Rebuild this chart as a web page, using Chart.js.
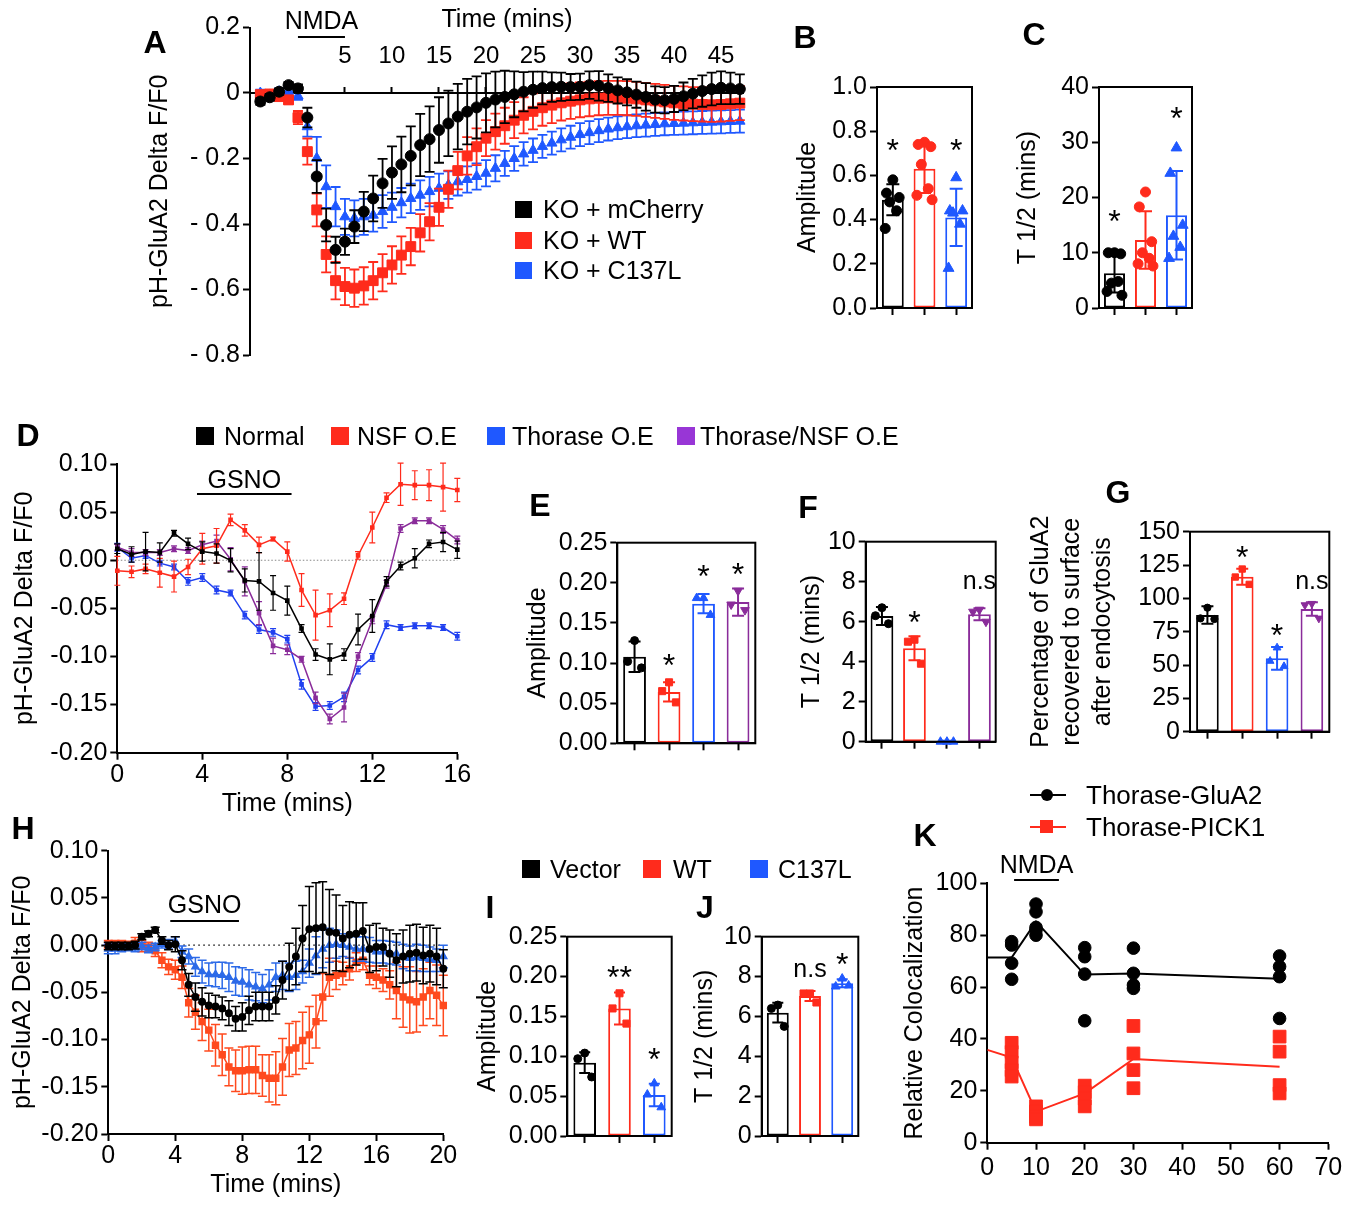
<!DOCTYPE html>
<html>
<head>
<meta charset="utf-8">
<script src="https://cdn.jsdelivr.net/npm/chart.js@4.4.1/dist/chart.umd.min.js"></script>
<style>
  body { margin: 0; background: #fff; }
  #page { position: relative; width: 1352px; height: 1205px; overflow: hidden;
          font-family: "Liberation Sans", Arial, sans-serif; color: #000; background: #fff; }
  #page canvas { position: absolute; left: 0; top: 0; }
  .t { position: absolute; white-space: nowrap; line-height: 1; }
</style>
</head>
<body>
<div id="page"></div>
<script>
// ---------- data ----------
// A: pH-GluA2 traces, one point per minute
const seriesA = ['KO + mCherry', 'KO + WT', 'KO + C137L'];
const tA = [-4,-3,-2,-1,0,1,2,3,4,5,6,7,8,9,10,11,12,13,14,15,16,17,18,19,20,21,22,23,24,25,26,27,28,29,30,31,32,33,34,35,36,37,38,39,40,41,42,43,44,45,46,47];
const mCherryA = [-0.026,-0.013,0.004,0.024,0.014,-0.075,-0.255,-0.403,-0.479,-0.454,-0.408,-0.362,-0.322,-0.276,-0.243,-0.218,-0.192,-0.159,-0.141,-0.113,-0.093,-0.072,-0.057,-0.044,-0.030,-0.020,-0.012,-0.004,0.004,0.010,0.015,0.018,0.019,0.018,0.019,0.024,0.022,0.015,0.008,0.002,-0.005,-0.012,-0.020,-0.022,-0.018,-0.010,-0.002,0.006,0.012,0.016,0.014,0.012];
const mCherryErrA = [0.010,0.010,0.010,0.010,0.012,0.030,0.050,0.050,0.040,0.040,0.050,0.060,0.070,0.075,0.080,0.085,0.090,0.095,0.100,0.100,0.100,0.100,0.100,0.095,0.090,0.085,0.080,0.070,0.060,0.055,0.050,0.045,0.043,0.040,0.040,0.042,0.045,0.042,0.040,0.040,0.040,0.042,0.040,0.040,0.040,0.042,0.045,0.048,0.050,0.050,0.048,0.045];
const wtA = [-0.005,-0.003,-0.011,-0.021,-0.075,-0.179,-0.357,-0.493,-0.573,-0.591,-0.596,-0.589,-0.573,-0.549,-0.525,-0.495,-0.469,-0.427,-0.393,-0.349,-0.294,-0.237,-0.192,-0.164,-0.138,-0.118,-0.100,-0.083,-0.068,-0.056,-0.045,-0.037,-0.030,-0.025,-0.021,-0.018,-0.016,-0.015,-0.015,-0.016,-0.018,-0.021,-0.024,-0.027,-0.030,-0.032,-0.034,-0.035,-0.036,-0.035,-0.033,-0.031];
const wtErrA = [0.010,0.010,0.010,0.012,0.020,0.040,0.050,0.055,0.057,0.057,0.057,0.057,0.057,0.057,0.057,0.057,0.057,0.057,0.057,0.057,0.057,0.057,0.057,0.056,0.055,0.055,0.055,0.055,0.055,0.055,0.055,0.055,0.054,0.054,0.053,0.053,0.052,0.052,0.052,0.052,0.052,0.052,0.052,0.052,0.052,0.052,0.052,0.052,0.052,0.052,0.052,0.052];
const c137lA = [0.000,-0.006,0.004,0.007,-0.009,-0.103,-0.199,-0.286,-0.347,-0.378,-0.383,-0.378,-0.373,-0.362,-0.349,-0.335,-0.322,-0.312,-0.301,-0.291,-0.281,-0.271,-0.264,-0.255,-0.245,-0.230,-0.215,-0.200,-0.186,-0.175,-0.163,-0.153,-0.143,-0.135,-0.127,-0.121,-0.115,-0.110,-0.106,-0.103,-0.100,-0.098,-0.096,-0.094,-0.093,-0.092,-0.091,-0.090,-0.089,-0.088,-0.087,-0.086];
const c137lErrA = [0.010,0.010,0.010,0.010,0.012,0.030,0.065,0.065,0.060,0.055,0.055,0.055,0.050,0.050,0.045,0.045,0.045,0.045,0.045,0.045,0.042,0.042,0.040,0.040,0.040,0.040,0.038,0.038,0.036,0.036,0.035,0.035,0.035,0.035,0.035,0.035,0.035,0.035,0.035,0.035,0.035,0.035,0.035,0.035,0.035,0.035,0.035,0.035,0.035,0.035,0.035,0.035];
const timeTicksA = [5, 10, 15, 20, 25, 30, 35, 40, 45];

// B, C: amplitude and T1/2 per group
const groupsABC = ['KO + mCherry', 'KO + WT', 'KO + C137L'];
const ampMeanB = [0.49, 0.63, 0.41];
const ampSdB = [0.07, 0.11, 0.13];
const ampDotsB = [[0.58,0.52,0.50,0.48,0.44,0.36], [0.75,0.74,0.73,0.65,0.54,0.51,0.49], [0.59,0.44,0.44,0.43,0.38,0.18]];
const sigB = ['*', '', '*'];
const sigAtB = [0.737, 0, 0.737];
const halfMeanC = [6.3, 12.3, 16.8];
const halfSdC = [3.5, 5.2, 8.0];
const halfDotsC = [[10,10,9.8,4.5,4.8,3,2.3], [21,18.3,12,10,9,8,7.6], [29,24.4,15,13,11,9]];
const sigC = ['*', '', '*'];
const sigAtC = [16.6, 0, 35.4];

// D: GSNO traces, one point every 40 s
const seriesD = ['Normal', 'NSF O.E', 'Thorase O.E', 'Thorase/NSF O.E'];
const tD = [0,0.67,1.33,2,2.67,3.33,4,4.67,5.33,6,6.67,7.33,8,8.67,9.33,10,10.67,11.33,12,12.67,13.33,14,14.67,15.33,16];
const normalD = [0.012,0.006,0.009,0.008,0.028,0.017,0.009,0.007,0.000,-0.021,-0.022,-0.034,-0.042,-0.071,-0.098,-0.103,-0.098,-0.072,-0.058,-0.022,-0.006,0.002,0.017,0.019,0.011];
const normalErrD = [0.005,0.008,0.020,0.010,0.003,0.006,0.010,0.010,0.012,0.012,0.030,0.018,0.015,0.004,0.006,0.016,0.006,0.016,0.017,0.005,0.004,0.010,0.004,0.010,0.009];
const nsfD = [-0.011,-0.012,-0.009,-0.013,-0.017,-0.007,0.012,0.015,0.042,0.031,0.016,0.022,0.009,-0.031,-0.057,-0.052,-0.040,0.005,0.034,0.065,0.079,0.078,0.078,0.076,0.073];
const nsfErrD = [0.015,0.006,0.005,0.015,0.016,0.008,0.016,0.018,0.006,0.006,0.008,0.002,0.010,0.017,0.026,0.017,0.006,0.004,0.016,0.005,0.022,0.015,0.016,0.025,0.012];
const thoraseD = [0.0135,0.002,0.005,-0.003,-0.007,-0.022,-0.018,-0.031,-0.034,-0.057,-0.072,-0.075,-0.082,-0.129,-0.152,-0.151,-0.142,-0.114,-0.101,-0.067,-0.070,-0.068,-0.068,-0.070,-0.079];
const thoraseErrD = [0.004,0.004,0.003,0.003,0.003,0.004,0.004,0.004,0.003,0.004,0.004,0.004,0.004,0.005,0.004,0.004,0.005,0.004,0.004,0.004,0.003,0.003,0.003,0.003,0.004];
const bothD = [0.0135,0.008,0.008,0.008,0.012,0.010,0.016,0.020,0.001,-0.022,-0.055,-0.089,-0.093,-0.103,-0.143,-0.165,-0.153,-0.100,-0.062,-0.025,0.033,0.041,0.041,0.032,0.021];
const bothErrD = [0.003,0.004,0.003,0.003,0.003,0.003,0.004,0.006,0.012,0.015,0.012,0.008,0.005,0.003,0.006,0.005,0.015,0.004,0.004,0.004,0.004,0.003,0.003,0.004,0.004];

// E, F, G
const groupsEFG = ['Normal', 'NSF O.E', 'Thorase O.E', 'Thorase/NSF O.E'];
const ampMeanE = [0.108, 0.064, 0.174, 0.176];
const ampSdE = [0.019, 0.012, 0.012, 0.017];
const ampDotsE = [[0.128,0.102,0.094], [0.076,0.065,0.051], [0.181,0.181,0.160], [0.190,0.173,0.166]];
const sigE = ['', '*', '*', '*'];
const sigAtE = [0, 0.104, 0.215, 0.217];
const halfMeanF = [6.28, 4.67, 0, 6.37];
const halfSdF = [0.45, 0.6, 0.05, 0.3];
const halfDotsF = [[6.7,6.3,5.9], [5.1,5.0,3.9], [0,0,0], [6.6,6.5,6.0]];
const sigF = ['', '*', '', 'n.s'];
const sigAtF = [0, 6.25, 0, 8.0];
const recovMeanG = [87.5, 116.2, 55, 92];
const recovSdG = [6.5, 6, 8.5, 5];
const recovDotsG = [[93,85,84.5], [122,116,110.5], [63,53,49], [96,95,85]];
const sigG = ['', '*', '*', 'n.s'];
const sigAtG = [0, 135, 76.3, 112.5];

// H: GSNO traces, one point every 24 s
const seriesHIJ = ['Vector', 'WT', 'C137L'];
const tH = [0,0.4,0.8,1.2,1.6,2,2.4,2.8,3.2,3.6,4,4.4,4.8,5.2,5.6,6,6.4,6.8,7.2,7.6,8,8.4,8.8,9.2,9.6,10,10.4,10.8,11.2,11.6,12,12.4,12.8,13.2,13.6,14,14.4,14.8,15.2,15.6,16,16.4,16.8,17.2,17.6,18,18.4,18.8,19.2,19.6,20];
const vectorH = [-0.001,-0.001,-0.001,-0.001,0,0.009,0.012,0.016,0.005,0,0.001,-0.016,-0.042,-0.055,-0.060,-0.064,-0.065,-0.067,-0.072,-0.078,-0.076,-0.069,-0.065,-0.065,-0.065,-0.058,-0.037,-0.023,-0.012,0.007,0.017,0.018,0.019,0.014,0.013,0.007,0.011,0.012,0.015,-0.004,-0.002,-0.002,-0.009,-0.016,-0.012,-0.009,-0.008,-0.011,-0.009,-0.012,-0.025];
const vectorErrH = [0.004,0.004,0.004,0.004,0.004,0.003,0.003,0.003,0.004,0.005,0.008,0.010,0.012,0.015,0.015,0.013,0.012,0.012,0.013,0.013,0.015,0.015,0.015,0.015,0.015,0.015,0.020,0.025,0.030,0.035,0.045,0.048,0.048,0.045,0.040,0.035,0.035,0.033,0.030,0.025,0.025,0.020,0.025,0.028,0.028,0.030,0.030,0.030,0.030,0.030,0.020];
const wtH = [0.001,0.001,0.001,0,0.002,-0.001,-0.002,-0.006,-0.016,-0.023,-0.026,-0.034,-0.061,-0.071,-0.081,-0.090,-0.106,-0.116,-0.129,-0.133,-0.133,-0.132,-0.132,-0.138,-0.141,-0.141,-0.129,-0.111,-0.109,-0.101,-0.095,-0.081,-0.055,-0.034,-0.032,-0.030,-0.025,-0.018,-0.016,-0.032,-0.034,-0.037,-0.042,-0.048,-0.055,-0.058,-0.060,-0.055,-0.048,-0.053,-0.064];
const wtErrH = [0.004,0.004,0.004,0.004,0.006,0.006,0.005,0.006,0.008,0.008,0.010,0.012,0.015,0.018,0.020,0.022,0.022,0.022,0.020,0.022,0.025,0.025,0.025,0.022,0.025,0.028,0.030,0.028,0.028,0.030,0.030,0.028,0.025,0.020,0.015,0.012,0.012,0.010,0.010,0.010,0.012,0.012,0.015,0.030,0.032,0.035,0.032,0.030,0.030,0.032,0.032];
const c137lH = [-0.004,-0.004,-0.003,-0.002,-0.003,-0.001,-0.004,-0.002,0.001,0.001,0.004,-0.007,-0.012,-0.023,-0.028,-0.031,-0.031,-0.032,-0.034,-0.038,-0.039,-0.042,-0.044,-0.046,-0.042,-0.034,-0.032,-0.034,-0.032,-0.028,-0.019,-0.011,-0.004,0,0.001,0,-0.002,-0.004,-0.004,-0.005,-0.007,-0.007,-0.008,-0.009,-0.012,-0.014,-0.013,-0.014,-0.015,-0.016,-0.012];
const c137lErrH = [0.005,0.005,0.004,0.004,0.004,0.004,0.004,0.004,0.004,0.005,0.005,0.006,0.008,0.010,0.012,0.012,0.013,0.014,0.015,0.015,0.015,0.016,0.015,0.015,0.016,0.015,0.015,0.015,0.015,0.012,0.015,0.020,0.020,0.018,0.015,0.012,0.012,0.013,0.013,0.013,0.012,0.012,0.012,0.012,0.013,0.013,0.014,0.014,0.013,0.012,0.012];

// I, J
const ampMeanI = [0.092, 0.160, 0.0514];
const ampSdI = [0.013, 0.020, 0.014];
const ampDotsI = [[0.104,0.097,0.074], [0.179,0.160,0.141], [0.066,0.052,0.036]];
const sigI = ['', '**', '*'];
const sigAtI = [0, 0.206, 0.1036];
const halfMeanJ = [6.19, 7.02, 7.66];
const halfSdJ = [0.5, 0.25, 0.2];
const halfDotsJ = [[6.57,6.4,5.5], [7.15,7.15,6.7], [7.9,7.5,7.55]];
const sigJ = ['', 'n.s', '*'];
const sigAtJ = [0, 8.32, 8.9];

// K: colocalization after NMDA
const seriesK = ['Thorase-GluA2', 'Thorase-PICK1'];
const timesK = [5, 10, 20, 30, 60];
const glua2K = [[77.5,76.2,69.2,63.0], [92,89,83,80,82], [75.2,71.7,65,47], [75,65.3,60.8,59.5], [72,67.9,64,47.9]];
const pick1K = [[38.5,35,31,28,25.5], [14,12,10,9], [22,19.5,17,14], [45,34.4,28,21], [40.9,35.1,22.2,19]];
const meanTimesK = [0, 5, 10, 20, 30, 60];
const glua2MeanK = [71.4, 71.4, 85.2, 64.8, 65.2, 63.2];
const pick1MeanK = [35.8, 32.8, 12, 19, 32.3, 29.3];

// ---------- setup ----------
const PAGE_W = 1352, PAGE_H = 1205;
const FONT = '"Liberation Sans", Arial, sans-serif';
const TICK = 25, TITLE = 25;
const COL = { black: '#000000', red: '#ff2b1c', blue: '#1f58ff', purple: '#8a2c9a', purpleKey: '#9836d6',
              blueD: '#2040f0', orange: '#ff4a1e', blueH: '#2c6ae8' };
const JITTER = [0, -0.2, 0.2, -0.1, 0.12, -0.24, 0.24, 0.05];

Chart.defaults.font.family = FONT;
Chart.defaults.color = '#000';
Chart.defaults.animation = false;
Chart.defaults.responsive = false;
Chart.defaults.events = [];
Chart.defaults.plugins.legend.display = false;
Chart.defaults.plugins.tooltip.enabled = false;

const page = document.getElementById('page');

function addCanvas() {
  const c = document.createElement('canvas');
  c.width = PAGE_W; c.height = PAGE_H;
  page.appendChild(c);
  return c;
}
function addText(text, x, y, size, opt = {}) {
  const d = document.createElement('div');
  d.className = 't';
  d.textContent = text;
  d.style.left = x + 'px';
  d.style.top = y + 'px';
  d.style.fontSize = size + 'px';
  if (opt.bold) d.style.fontWeight = 'bold';
  d.style.transform = opt.center ? 'translate(-50%,-50%)' : 'translate(0,-50%)';
  page.appendChild(d);
}
function addBox(x, y, w, h, color, round) {
  const d = document.createElement('div');
  Object.assign(d.style, { position: 'absolute', left: x + 'px', top: y + 'px', width: w + 'px', height: h + 'px',
                           background: color, borderRadius: round ? '50%' : '0' });
  page.appendChild(d);
}

// chart area placed at rect r, y axis box W wide, x axis box H high
function frameLayout(r, W, H) {
  return { padding: { left: r.L - W, top: r.T, right: PAGE_W - r.R, bottom: PAGE_H - r.B - H } };
}

// error bars drawn from dataset.errors through the y scale
function drawErrors(chart, args) {
  const ds = chart.data.datasets[args.index];
  if (!ds.errors) return;
  const meta = args.meta, ys = chart.scales[meta.yAxisID], ctx = chart.ctx;
  const cap = ds.capWidth || 8;
  ctx.save();
  ctx.lineWidth = ds.errorWidth || 1.5;
  meta.data.forEach((el, i) => {
    const e = ds.errors[i];
    if (e == null) return;
    const raw = ds.data[i];
    const v = typeof raw === 'object' ? raw.y : raw;
    const x = el.x, y1 = ys.getPixelForValue(v + e), y2 = ys.getPixelForValue(v - e);
    ctx.strokeStyle = Array.isArray(ds.errorColor) ? ds.errorColor[i] : (ds.errorColor || ds.borderColor);
    ctx.beginPath();
    ctx.moveTo(x, y1); ctx.lineTo(x, y2);
    ctx.moveTo(x - cap / 2, y1); ctx.lineTo(x + cap / 2, y1);
    ctx.moveTo(x - cap / 2, y2); ctx.lineTo(x + cap / 2, y2);
    ctx.stroke();
  });
  ctx.restore();
}
const errorBars = {
  id: 'errorBars',
  beforeDatasetDraw(chart, args) { if (!chart.data.datasets[args.index].errorsOnTop) drawErrors(chart, args); },
  afterDatasetDraw(chart, args) { if (chart.data.datasets[args.index].errorsOnTop) drawErrors(chart, args); }
};
const frameBox = {
  id: 'frameBox',
  afterDatasetsDraw(chart, args, opts) {
    if (!opts.show) return;
    const { left, top, right, bottom } = chart.chartArea, ctx = chart.ctx;
    ctx.save();
    ctx.strokeStyle = '#000'; ctx.lineWidth = 2;
    ctx.strokeRect(left, top, right - left, bottom - top);
    ctx.restore();
  }
};
Chart.register(errorBars, frameBox);

function marksPlugin(labels, at) {
  return {
    id: 'marks',
    afterDatasetsDraw(chart) {
      const ctx = chart.ctx, xs = chart.scales.x, ys = chart.scales.y;
      ctx.save();
      ctx.fillStyle = '#000'; ctx.textAlign = 'center'; ctx.textBaseline = 'middle';
      labels.forEach((txt, i) => {
        if (!txt) return;
        const star = txt.indexOf('*') >= 0;
        const size = star ? 32 : 25;
        ctx.font = size + 'px ' + FONT;
        ctx.fillText(txt, xs.getPixelForValue(i), ys.getPixelForValue(at[i]) + (star ? 0.23 * size : 0));
      });
      ctx.restore();
    }
  };
}
function stimPlugin(from, to, at, label, lift) {
  return {
    id: 'stim',
    afterDraw(chart) {
      const xs = chart.scales.x, ys = chart.scales.y, ctx = chart.ctx;
      const x1 = xs.getPixelForValue(from), x2 = xs.getPixelForValue(to), y = ys.getPixelForValue(at);
      ctx.save();
      ctx.strokeStyle = '#000'; ctx.lineWidth = 2;
      ctx.beginPath(); ctx.moveTo(x1, y); ctx.lineTo(x2, y); ctx.stroke();
      ctx.font = '25px ' + FONT; ctx.fillStyle = '#000';
      ctx.textAlign = 'center'; ctx.textBaseline = 'middle';
      ctx.fillText(label, (x1 + x2) / 2, y - lift);
      ctx.restore();
    }
  };
}
function zeroLine(color, dash) {
  return {
    id: 'zeroLine',
    beforeDatasetsDraw(chart) {
      const y = chart.scales.y.getPixelForValue(0), { left, right } = chart.chartArea, ctx = chart.ctx;
      ctx.save();
      ctx.strokeStyle = color; ctx.lineWidth = 1.2; ctx.setLineDash(dash);
      ctx.beginPath(); ctx.moveTo(left, y); ctx.lineTo(right, y); ctx.stroke();
      ctx.restore();
    }
  };
}

const tickGrid = { display: true, drawOnChartArea: false, drawTicks: true, tickLength: 7, tickWidth: 2, tickColor: '#000', offset: false };
const axisBorder = { display: true, color: '#000', width: 2 };

function yAxis(min, max, step, fmt, W, title, titleFont) {
  return {
    min, max,
    ticks: { stepSize: step, callback: fmt, font: { size: TICK }, padding: 3, autoSkip: false },
    grid: tickGrid, border: axisBorder,
    title: { display: true, text: title, font: titleFont || { size: TITLE }, padding: { top: 4, bottom: 4 } },
    afterFit: s => { s.width = W; }
  };
}
const fmt1 = v => v.toFixed(1);
const fmt2 = v => (Math.abs(v) < 1e-9 ? 0 : v).toFixed(2);
const fmt0 = v => String(Math.round(v));
const fmtA = v => Math.abs(v) < 1e-9 ? '0' : (v < 0 ? '- ' + (-v).toFixed(1) : v.toFixed(1));

// bars, scatter of single values and error bars share one linear x axis (group index)
function barPanel(p) {
  const n = p.groups.length;
  const datasets = p.dots.map((vals, g) => ({
    type: 'scatter', order: 1, clip: false,
    data: vals.map((v, k) => ({ x: g + JITTER[k % JITTER.length], y: v })),
    pointStyle: p.shapes[g], pointRotation: p.rotations ? p.rotations[g] : 0,
    pointRadius: p.shapes[g] === 'circle' ? p.r : p.r * 1.25,
    pointBackgroundColor: p.colors[g], pointBorderColor: p.colors[g], pointBorderWidth: 1
  }));
  datasets.push({
    type: 'bar', order: 2, grouped: false, data: p.means.map((m, g) => ({ x: g, y: m })),
    errors: p.sds, errorsOnTop: true, errorColor: p.colors, errorWidth: 2, capWidth: p.cap,
    borderColor: p.colors, backgroundColor: '#ffffff', borderWidth: 2, borderSkipped: false,
    barPercentage: p.barPct, categoryPercentage: 1
  });
  new Chart(addCanvas(), {
    type: 'bar',
    data: { datasets },
    options: {
      layout: frameLayout(p.rect, p.W, 12),
      scales: {
        x: { type: 'linear', offset: false, min: -0.5, max: n - 0.5,
             afterBuildTicks: s => { s.ticks = p.groups.map((_, g) => ({ value: g })); },
             ticks: { display: false }, grid: tickGrid, border: axisBorder,
             afterFit: s => { s.height = 12; } },
        y: yAxis(p.min, p.max, p.step, p.fmt, p.W, p.title, p.titleFont)
      },
      plugins: { frameBox: { show: true } }
    },
    plugins: [marksPlugin(p.sig, p.sigAt)]
  });
}

// ---------- A ----------
const rectA = { L: 250, T: 27.5, R: 743.6, B: 355 };
const ptsA = vals => tA.map((t, i) => ({ x: t, y: vals[i] }));
new Chart(addCanvas(), {
  type: 'scatter',
  data: { datasets: [
    { data: ptsA(mCherryA), errors: mCherryErrA, capWidth: 10, errorWidth: 1.8, errorColor: COL.black, clip: false,
      pointStyle: 'circle', pointRadius: 5.5, pointBackgroundColor: COL.black, pointBorderColor: COL.black },
    { data: ptsA(wtA), errors: wtErrA, capWidth: 10, errorWidth: 1.8, errorColor: COL.red, clip: false,
      pointStyle: 'rect', pointRadius: 7, pointBackgroundColor: COL.red, pointBorderColor: COL.red },
    { data: ptsA(c137lA), errors: c137lErrA, capWidth: 10, errorWidth: 1.8, errorColor: COL.blue, clip: false,
      pointStyle: 'triangle', pointRadius: 6, pointBackgroundColor: COL.blue, pointBorderColor: COL.blue }
  ] },
  options: {
    layout: frameLayout(rectA, 109, 0),
    scales: {
      x: { type: 'linear', position: { y: 0 }, min: -5.1, max: 47.4,
           afterBuildTicks: s => { s.ticks = timeTicksA.map(v => ({ value: v })); },
           ticks: { font: { size: 24 }, padding: -44, maxRotation: 0, autoSkip: false },
           grid: Object.assign({}, tickGrid, { tickLength: -7 }), border: axisBorder },
      y: yAxis(-0.8, 0.2, 0.2, fmtA, 109, 'pH-GluA2 Delta F/F0')
    }
  },
  plugins: [stimPlugin(0, 5, 0.171, 'NMDA', 15)]
});

// ---------- B, C ----------
barPanel({ rect: { L: 877, T: 87, R: 972, B: 308 }, W: 88, groups: groupsABC,
  means: ampMeanB, sds: ampSdB, dots: ampDotsB, colors: [COL.black, COL.red, COL.blue],
  shapes: ['circle', 'circle', 'triangle'], r: 5, cap: 13, barPct: 0.69,
  min: 0, max: 1, step: 0.2, fmt: fmt1, title: 'Amplitude', sig: sigB, sigAt: sigAtB });
barPanel({ rect: { L: 1099, T: 87, R: 1192, B: 308 }, W: 90, groups: groupsABC,
  means: halfMeanC, sds: halfSdC, dots: halfDotsC, colors: [COL.black, COL.red, COL.blue],
  shapes: ['circle', 'circle', 'triangle'], r: 5, cap: 13, barPct: 0.68,
  min: 0, max: 40, step: 10, fmt: fmt0, title: 'T 1/2 (mins)', sig: sigC, sigAt: sigAtC });

// ---------- D ----------
const rectD = { L: 117.3, T: 464, R: 457.3, B: 752.7 };
const ptsD = vals => tD.map((t, i) => ({ x: t, y: vals[i] }));
const lineD = (vals, errs, color) => ({
  data: ptsD(vals), errors: errs, capWidth: 6, errorWidth: 1.2, errorColor: color, clip: false,
  borderColor: color, borderWidth: 1.5, tension: 0, pointStyle: 'rect', pointRadius: 2.2,
  pointBackgroundColor: color, pointBorderColor: color
});
new Chart(addCanvas(), {
  type: 'line',
  data: { datasets: [
    lineD(normalD, normalErrD, COL.black),
    lineD(nsfD, nsfErrD, COL.red),
    lineD(bothD, bothErrD, COL.purple),
    lineD(thoraseD, thoraseErrD, COL.blueD)
  ] },
  options: {
    layout: frameLayout(rectD, 111, 70),
    scales: {
      x: { type: 'linear', min: 0, max: 16, ticks: { stepSize: 4, font: { size: TICK }, padding: 0, autoSkip: false, maxRotation: 0 },
           grid: tickGrid, border: axisBorder,
           title: { display: true, text: 'Time (mins)', font: { size: TITLE }, padding: { top: 4, bottom: 4 } },
           afterFit: s => { s.height = 70; } },
      y: yAxis(-0.2, 0.1, 0.05, fmt2, 111, 'pH-GluA2 Delta F/F0')
    }
  },
  plugins: [zeroLine('#888', [1.5, 2]), stimPlugin(3.75, 8.2, 0.0688, 'GSNO', 13)]
});

// ---------- E, F, G ----------
const colorsEFG = [COL.black, COL.red, COL.blue, COL.purple];
const shapesEFG = ['circle', 'rect', 'triangle', 'triangle'];
barPanel({ rect: { L: 617.3, T: 542.7, R: 755.3, B: 743.3 }, W: 98, groups: groupsEFG,
  means: ampMeanE, sds: ampSdE, dots: ampDotsE, colors: colorsEFG, shapes: shapesEFG, rotations: [0, 0, 0, 180],
  r: 4, cap: 12, barPct: 0.66, min: 0, max: 0.25, step: 0.05, fmt: fmt2, title: 'Amplitude', sig: sigE, sigAt: sigAtE });
barPanel({ rect: { L: 865.7, T: 541.7, R: 995.7, B: 741.7 }, W: 73, groups: groupsEFG,
  means: halfMeanF, sds: halfSdF, dots: halfDotsF, colors: colorsEFG, shapes: shapesEFG, rotations: [0, 0, 0, 180],
  r: 4, cap: 12, barPct: 0.7, min: 0, max: 10, step: 2, fmt: fmt0, title: 'T 1/2 (mins)', sig: sigF, sigAt: sigAtF });
barPanel({ rect: { L: 1190, T: 531.7, R: 1329.3, B: 731.7 }, W: 168, groups: groupsEFG,
  means: recovMeanG, sds: recovSdG, dots: recovDotsG, colors: colorsEFG, shapes: shapesEFG, rotations: [0, 0, 0, 180],
  r: 3.6, cap: 12, barPct: 0.65, min: 0, max: 150, step: 25, fmt: fmt0,
  title: ['Percentage of GluA2', 'recovered to surface', 'after endocytosis'], titleFont: { size: TITLE, lineHeight: 1.23 },
  sig: sigG, sigAt: sigAtG });

// ---------- H ----------
const rectH = { L: 108.3, T: 850.7, R: 443.3, B: 1134 };
const ptsH = vals => tH.map((t, i) => ({ x: t, y: vals[i] }));
const lineH = (vals, errs, color, shape, r) => ({
  data: ptsH(vals), errors: errs, capWidth: 9, errorWidth: 1.5, errorColor: color, clip: false,
  borderColor: color, borderWidth: 1.5, tension: 0, pointStyle: shape, pointRadius: r,
  pointBackgroundColor: color, pointBorderColor: color
});
new Chart(addCanvas(), {
  type: 'line',
  data: { datasets: [
    lineH(vectorH, vectorErrH, COL.black, 'circle', 3.2),
    lineH(c137lH, c137lErrH, COL.blueH, 'triangle', 4),
    lineH(wtH, wtErrH, COL.orange, 'rect', 4.2)
  ] },
  options: {
    layout: frameLayout(rectH, 104, 70),
    scales: {
      x: { type: 'linear', min: 0, max: 20, ticks: { stepSize: 4, font: { size: TICK }, padding: 0, autoSkip: false, maxRotation: 0 },
           grid: tickGrid, border: axisBorder,
           title: { display: true, text: 'Time (mins)', font: { size: TITLE }, padding: { top: 4, bottom: 4 } },
           afterFit: s => { s.height = 70; } },
      y: yAxis(-0.2, 0.1, 0.05, fmt2, 104, 'pH-GluA2 Delta F/F0')
    }
  },
  plugins: [zeroLine('#000', [1.5, 3.5]), stimPlugin(3.7, 7.8, 0.0255, 'GSNO', 15)]
});

// ---------- I, J ----------
const colorsIJ = [COL.black, COL.red, COL.blue];
barPanel({ rect: { L: 567.3, T: 936.7, R: 671.7, B: 1136 }, W: 98, groups: seriesHIJ,
  means: ampMeanI, sds: ampSdI, dots: ampDotsI, colors: colorsIJ, shapes: ['circle', 'rect', 'triangle'],
  r: 4, cap: 11, barPct: 0.65, min: 0, max: 0.25, step: 0.05, fmt: fmt2, title: 'Amplitude', sig: sigI, sigAt: sigAtI });
barPanel({ rect: { L: 761.7, T: 936.7, R: 858.3, B: 1136 }, W: 76, groups: seriesHIJ,
  means: halfMeanJ, sds: halfSdJ, dots: halfDotsJ, colors: colorsIJ, shapes: ['circle', 'rect', 'triangle'],
  r: 4, cap: 11, barPct: 0.68, min: 0, max: 10, step: 2, fmt: fmt0, title: 'T 1/2 (mins)', sig: sigJ, sigAt: sigAtJ });

// ---------- K ----------
const rectK = { L: 987.3, T: 883.3, R: 1328.3, B: 1142.7 };
const flatK = groups => groups.flatMap((vals, i) => vals.map(v => ({ x: timesK[i], y: v })));
new Chart(addCanvas(), {
  type: 'scatter',
  data: { datasets: [
    { data: flatK(glua2K), order: 1, clip: false, pointStyle: 'circle', pointRadius: 6.3,
      pointBackgroundColor: COL.black, pointBorderColor: COL.black },
    { data: flatK(pick1K), order: 1, clip: false, pointStyle: 'rect', pointRadius: 9,
      pointBackgroundColor: COL.red, pointBorderColor: COL.red },
    { data: meanTimesK.map((t, i) => ({ x: t, y: glua2MeanK[i] })), order: 2, showLine: true,
      borderColor: COL.black, borderWidth: 2, pointRadius: 0 },
    { data: meanTimesK.map((t, i) => ({ x: t, y: pick1MeanK[i] })), order: 2, showLine: true,
      borderColor: COL.red, borderWidth: 2, pointRadius: 0 }
  ] },
  options: {
    layout: frameLayout(rectK, 91, 50),
    scales: {
      x: { type: 'linear', min: 0, max: 70, ticks: { stepSize: 10, font: { size: TICK }, padding: 3, autoSkip: false, maxRotation: 0 },
           grid: tickGrid, border: axisBorder, afterFit: s => { s.height = 50; } },
      y: yAxis(0, 100, 20, fmt0, 91, 'Relative Colocalization')
    }
  },
  plugins: [stimPlugin(5.5, 14.7, 101.3, 'NMDA', 14)]
});

// ---------- labels and keys ----------
[['A', 155, 42], ['B', 805, 37], ['C', 1034, 34], ['D', 28, 435], ['E', 540, 505], ['F', 808, 507],
 ['G', 1118, 492], ['H', 23, 828], ['I', 490, 907], ['J', 705, 907], ['K', 925, 835]]
  .forEach(([l, x, y]) => addText(l, x, y, 32, { bold: true, center: true }));

addText('Time (mins)', 507, 18, 25, { center: true });

const keyColorsA = [COL.black, COL.red, COL.blue];
[209, 240, 270].forEach((y, i) => {
  addBox(515, y - 8.5, 17, 17, keyColorsA[i]);
  addText(seriesA[i], 543, y, 25);
});

const keyColorsD = [COL.black, COL.red, COL.blue, COL.purpleKey];
[[196, 224], [331, 357], [487, 512], [677, 700]].forEach(([sx, tx], i) => {
  addBox(sx, 427, 18, 18, keyColorsD[i]);
  addText(seriesD[i], tx, 436, 25);
});

const keyColorsI = [COL.black, COL.red, COL.blue];
[[522, 550], [643, 673], [750, 778]].forEach(([sx, tx], i) => {
  addBox(sx, 860, 18, 18, keyColorsI[i]);
  addText(seriesHIJ[i], tx, 869, 25);
});

addBox(1030, 794, 36, 2, COL.black);
addBox(1040.5, 788.5, 12.7, 12.7, COL.black, true);
addText(seriesK[0], 1086, 795, 26);
addBox(1030, 825.5, 36, 2, COL.red);
addBox(1040, 820, 13.3, 13.3, COL.red);
addText(seriesK[1], 1086, 827, 26);
</script>
</body>
</html>
